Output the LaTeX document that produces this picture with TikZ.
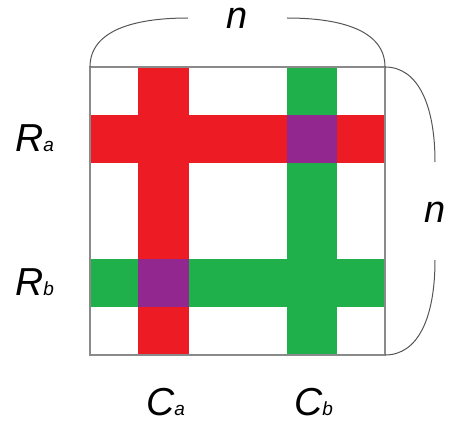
\documentclass[tikz,border=0pt]{standalone}
\usepackage{fontspec}
\setmainfont{Liberation Sans}
\definecolor{cred}{HTML}{ED1C24}
\definecolor{cgreen}{HTML}{1FB04B}
\definecolor{cpurple}{HTML}{92278F}
\definecolor{cframe}{HTML}{8A8A8A}
\definecolor{cbrace}{HTML}{555555}
\newcommand{\biglab}[2]{{\fontsize{39}{39}\selectfont\itshape #1}{\fontsize{19}{19}\selectfont\itshape #2}}
\tikzset{
  band/.style={draw=none},
  frame/.style={draw=cframe, line width=1.2pt},
  bracearc/.style={draw=cbrace, line width=1pt},
  lab/.style={inner sep=0pt, anchor=base west},
  nlab/.style={inner sep=0pt, anchor=base west, text height=20pt, text depth=0pt},
}
\begin{document}
\begin{tikzpicture}[x=1pt,y=-1pt]
\useasboundingbox (0,0) rectangle (450,422);
% bands
\fill[cred] (138,67) rectangle (189,355);
\fill[cred] (90,115) rectangle (385,163);
\fill[cgreen] (287,67) rectangle (337,355);
\fill[cgreen] (90,259) rectangle (385,307);
\fill[cpurple] (287,115) rectangle (337,163);
\fill[cpurple] (138,259) rectangle (189,307);
% frame
\draw[frame] (90,67) rectangle (385,355);
\coordinate (tl) at (90,67);
\coordinate (tr) at (385,67);
\coordinate (br) at (385,355);
% braces
\draw[bracearc] (tl) .. controls (90,30) and (135,18) .. (188,18);
\draw[bracearc] (287,18) .. controls (340,18) and (385,30) .. (tr);
\draw[bracearc] (tr) .. controls (418,67) and (435,105) .. (435,162);
\draw[bracearc] (435,260) .. controls (435,318) and (418,355) .. (br);
% labels
\node[nlab] (ntop) at (226,29) {\fontsize{38}{38}\selectfont\itshape n};
\node[nlab] (nright) at (424,223) {\fontsize{38}{38}\selectfont\itshape n};
\node[lab] (ra) at (15,152) {\biglab{R}{a}};
\node[lab] (rb) at (15,295) {\biglab{R}{b}};
\node[lab] (ca) at (146,415) {\biglab{C}{a}};
\node[lab] (cb) at (294,415) {\biglab{C}{b}};
\end{tikzpicture}
\end{document}
